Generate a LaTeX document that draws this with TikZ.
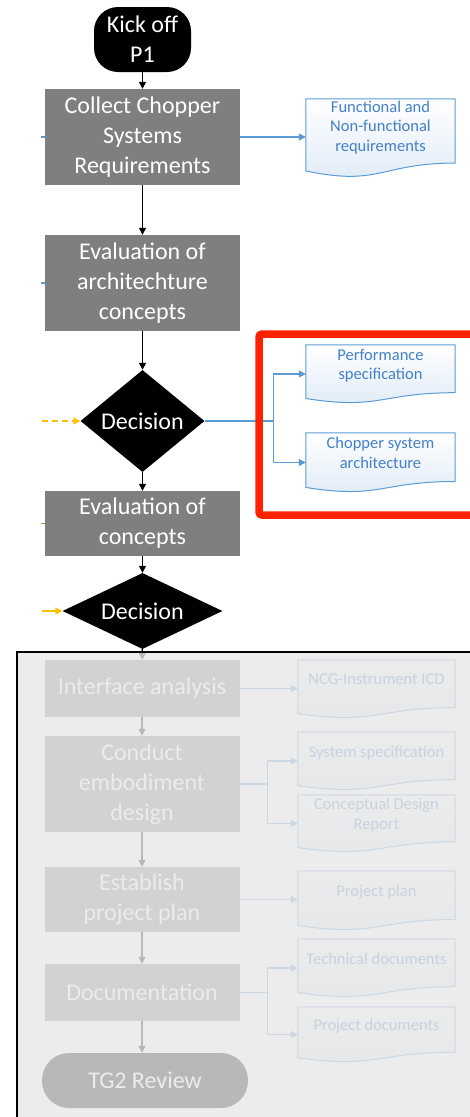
\documentclass[tikz,border=0pt]{standalone}
\usepackage{fontspec}
\setmainfont{Carlito}
\usetikzlibrary{arrows.meta,shapes.geometric,calc,backgrounds}

\definecolor{figgray}{RGB}{127,127,127}
\definecolor{figblue}{RGB}{91,155,213}
\definecolor{figdoctext}{RGB}{68,128,200}
\definecolor{figdocfill}{RGB}{222,234,247}
\definecolor{figorange}{RGB}{255,192,0}
\definecolor{figred}{RGB}{255,34,0}
\definecolor{figgreen}{RGB}{112,173,71}
\definecolor{figveil}{RGB}{231,231,231}

\begin{document}
\begin{tikzpicture}[x=1pt,y=-1pt,
  stepbox/.style={fill=figgray,text=white,minimum width=195,minimum height=#1,inner sep=0,align=center,font=\fontsize{24}{30}\selectfont},
  termbox/.style={fill=black,text=white,rounded corners=24,inner sep=0,align=center,font=\fontsize{24}{30}\selectfont},
  decision/.style={diamond,fill=black,text=white,inner sep=0,font=\fontsize{24}{30}\selectfont},
  docnode/.style={text=figdoctext,inner xsep=2,inner ysep=0,align=center,text depth=19pt,font=\fontsize{16.5}{19.5}\selectfont},
  docshape/.style={draw=figblue,line width=1,top color=white,bottom color=figdocfill},
  flow/.style={line width=1.3,-{Triangle[length=7,width=7]}},
  docflow/.style={figblue,line width=1.2,-{Triangle[length=7,width=7]}},
  orflow/.style={figorange,line width=1.5,-{Triangle[length=7,width=7]}}]
  \useasboundingbox (0,0) rectangle (469,1117);

  \node[termbox,minimum width=97,minimum height=65] (kick) at (142.5,39.5) {Kick off\\P1};
  \node[stepbox=96] (collect) at (142.5,137) {Collect Chopper\\Systems\\Requirements};
  \node[stepbox=96] (evalarch) at (142.5,283) {Evaluation of\\architechture\\concepts};
  \node[decision,aspect=1.2,minimum width=124,minimum height=102] (dec1) at (142.5,421) {Decision};
  \node[stepbox=65] (evalconc) at (142.5,523.5) {Evaluation of\\concepts};
  \node[decision,aspect=2.1,minimum width=160,minimum height=76] (dec2) at (142.5,611) {Decision};
  \node[stepbox=57] (iface) at (142,688.5) {Interface analysis};
  \node[stepbox=96] (embody) at (142,784) {Conduct\\embodiment\\design};
  \node[stepbox=65] (plan) at (142,899.5) {Establish\\project plan};
  \node[stepbox=57] (docu) at (142,992.5) {Documentation};
  \node[termbox,minimum width=206,minimum height=55,rounded corners=27] (tg2) at (145,1080.5) {TG2 Review};

  \node[docnode,minimum width=149,minimum height=78,text depth=24pt] (fnreq) at (380.5,138) {Functional and\\Non-functional\\requirements};
  \node[docnode,minimum width=149,minimum height=58] (perf) at (380.5,374) {Performance\\specification};
  \node[docnode,minimum width=149,minimum height=59] (arch) at (380.5,462.5) {Chopper system\\architecture};
  \node[docnode,minimum width=157,minimum height=58] (icd) at (376.5,689) {NCG-Instrument ICD};
  \node[docnode,minimum width=157,minimum height=58] (sysspec) at (376.5,761) {System specification};
  \node[docnode,minimum width=157,minimum height=57] (cdr) at (376.5,823.5) {Conceptual Design\\Report};
  \node[docnode,minimum width=157,minimum height=59] (pplan) at (376.5,900.5) {Project plan};
  \node[docnode,minimum width=157,minimum height=58] (techdoc) at (376.5,968) {Technical documents};
  \node[docnode,minimum width=157,minimum height=55] (projdoc) at (376.5,1034.5) {Project documents};

  \begin{scope}[on background layer]
    \foreach \d in {fnreq,perf,arch,icd,sysspec,cdr,pplan,techdoc,projdoc}
      \draw[docshape] (\d.north west) -- (\d.north east) -- ($(\d.north east)!.82!(\d.south east)$)
        .. controls ($(\d.north)!.82!(\d.south)$) and ($(\d.north)!1.12!(\d.south)$) .. ($(\d.north west)!.92!(\d.south west)$) -- cycle;
  \end{scope}

  \draw[flow] (kick) -- (collect);
  \draw[flow] (collect) -- (evalarch);
  \draw[flow] (evalarch) -- (dec1);
  \draw[flow] (dec1) -- (evalconc);
  \draw[flow] (evalconc) -- (dec2);
  \draw[flow] (dec2) -- (iface);
  \draw[flow] (iface) -- (embody);
  \draw[flow] (embody) -- (plan);
  \draw[flow] (plan) -- (docu);
  \draw[flow] (docu.south) -- (docu.south |- tg2.north);

  \draw[docflow] (collect.east) -- (collect.east -| fnreq.west);
  \coordinate (split1) at ($(dec1.east)+(69,0)$);
  \draw[docflow,-] (dec1.east) -- (split1);
  \draw[docflow] (split1) |- (perf.west);
  \draw[docflow] (split1) |- (arch.west);
  \draw[docflow] (iface.east) -- (iface.east -| icd.west);
  \coordinate (split2) at ($(embody.east)+(28,0)$);
  \draw[docflow,-] (embody.east) -- (split2);
  \draw[docflow] (split2) |- (sysspec.west);
  \draw[docflow] (split2) |- (cdr.west);
  \draw[docflow] (plan.east) -- (plan.east -| pplan.west);
  \coordinate (split3) at ($(docu.east)+(28,0)$);
  \draw[docflow,-] (docu.east) -- (split3);
  \draw[docflow] (split3) |- (techdoc.west);
  \draw[docflow] (split3) |- (projdoc.west);

  \coordinate (orin1) at (42,421);
  \coordinate (orin2) at (42,611);
  \draw[orflow,dash pattern=on 6pt off 4pt] (orin1) -- (dec1.west);
  \draw[orflow] (orin2) -- (dec2.west);

  \coordinate (stub1) at (41,137);
  \coordinate (stub2) at (41,283);
  \coordinate (stub3) at (41,523.5);
  \draw[figblue,line width=1.2] (stub1) -- (collect.west);
  \draw[figblue,line width=1.2] (stub2) -- (evalarch.west);
  \draw[figgreen,line width=1.2] (stub3) -- (evalconc.west);

  \draw[figred,line width=7.5,rounded corners=3] (259,334) rectangle (486,515);

  \draw[black,line width=2.2,fill=figveil,fill opacity=0.8] (17,652) rectangle (482,1125);
\end{tikzpicture}
\end{document}
